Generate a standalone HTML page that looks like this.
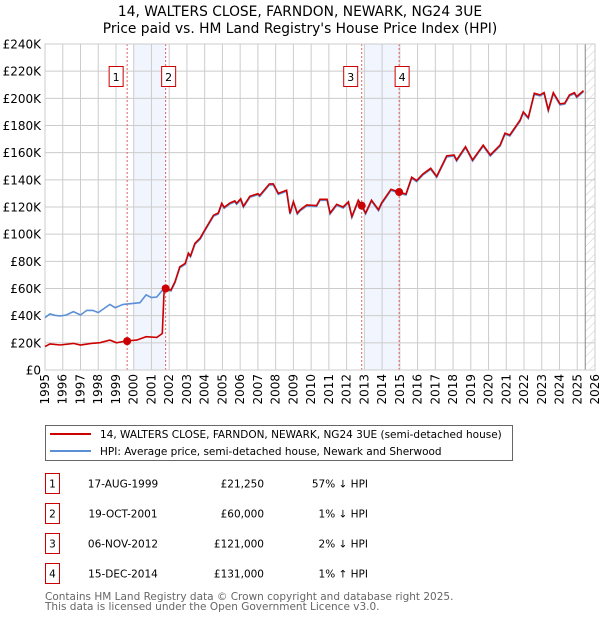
<!DOCTYPE html>
<html><head><meta charset="utf-8">
<style>
body{margin:0;background:#fff;width:600px;height:620px;overflow:hidden;font-family:"DejaVu Sans","Liberation Sans",sans-serif;}
svg text{font-family:"DejaVu Sans","Liberation Sans",sans-serif;}
</style></head>
<body>
<svg id="chart" width="600" height="620" xmlns="http://www.w3.org/2000/svg">
<defs>
<pattern id="hatch" width="6" height="6" patternUnits="userSpaceOnUse" patternTransform="rotate(45)">
<line x1="0" y1="0" x2="0" y2="6" stroke="#ccc" stroke-width="1"/>
</pattern>
</defs>
<text x="300" y="16" text-anchor="middle" font-size="13.8" fill="#000">14, WALTERS CLOSE, FARNDON, NEWARK, NG24 3UE</text>
<text x="300" y="33" text-anchor="middle" font-size="13.8" fill="#000">Price paid vs. HM Land Registry's House Price Index (HPI)</text>
<g id="plot"></g>
<g>
<rect x="45.5" y="425.5" width="467" height="35" fill="#fff" stroke="#666"/>
<line x1="50" y1="434" x2="91" y2="434" stroke="#cc0000" stroke-width="2"/>
<text x="100" y="438" font-size="10.5">14, WALTERS CLOSE, FARNDON, NEWARK, NG24 3UE (semi-detached house)</text>
<line x1="50" y1="451" x2="91" y2="451" stroke="#5b8fd6" stroke-width="2"/>
<text x="100" y="455" font-size="10.5">HPI: Average price, semi-detached house, Newark and Sherwood</text>
</g>
<g id="table"></g>
<text x="45" y="600" font-size="10.5" fill="#666">Contains HM Land Registry data © Crown copyright and database right 2025.</text>
<text x="45" y="610" font-size="10.5" fill="#666">This data is licensed under the Open Government Licence v3.0.</text>
</svg>
<script>
const yearTicks=[1995,1996,1997,1998,1999,2000,2001,2002,2003,2004,2005,2006,2007,2008,2009,2010,2011,2012,2013,2014,2015,2016,2017,2018,2019,2020,2021,2022,2023,2024,2025,2026];
const valueTicks=[0,20,40,60,80,100,120,140,160,180,200,220,240];
const valueLabels=["£0","£20K","£40K","£60K","£80K","£100K","£120K","£140K","£160K","£180K","£200K","£220K","£240K"];
const commonT=[2001.76,2002.1,2002.33,2002.6,2002.9,2003.08,2003.2,2003.45,2003.74,2004.0,2004.5,2004.77,2004.96,2005.1,2005.43,2005.7,2005.8,2006.03,2006.18,2006.55,2007.0,2007.1,2007.65,2007.87,2008.15,2008.62,2008.81,2009.0,2009.22,2009.37,2009.75,2010.3,2010.5,2010.9,2011.07,2011.44,2011.8,2012.1,2012.3,2012.66,2012.85,2013.07,2013.4,2013.8,2013.97,2014.5,2014.95,2015.35,2015.67,2015.95,2016.3,2016.74,2017.08,2017.64,2018.05,2018.2,2018.7,2019.1,2019.7,2020.1,2020.65,2020.93,2021.2,2021.78,2021.96,2022.24,2022.58,2022.9,2023.13,2023.37,2023.65,2024.03,2024.3,2024.56,2024.84,2024.97,2025.35];
const commonV=[60,58.9,65,76,78.5,86,84,93.3,97,103,114,115.6,122.7,119.8,123,124.5,122.7,126,120.6,127.9,129.8,128.5,137,137,130,132.4,115.4,124,115.4,117.8,121.5,121,125.7,125.7,115.6,122,120,123.8,112.9,125,121,115.6,125,118,123,133,131,129.6,141.9,139.4,144.3,148.5,142.5,157.6,158.3,154.6,164.4,154.6,165.6,158.3,165.6,174.3,173,184,190,185.8,203.7,202.5,204.2,191.5,204.2,195.9,196.4,202.5,204.2,201.3,205.7];
const hpiEarlyT=[1995.0,1995.28,1995.55,1995.85,1996.2,1996.6,1997.0,1997.35,1997.7,1998.0,1998.66,1998.95,1999.4,1999.89,2000.35,2000.7,2001.0,2001.3,2001.58];
const hpiEarlyV=[39.3,42,41,40.5,41.2,43.7,41.2,44.6,44.6,43,49,46.6,49,49.6,50.3,56,54,54.5,58.9];
const ppEarlyT=[1995.0,1995.28,1995.85,1996.6,1997.0,1997.6,1998.1,1998.66,1999.03,1999.6,2000.17,2000.7,2001.3,2001.61,2001.72];
const ppEarlyV=[17.2,19.2,18.4,19.6,18.4,19.6,20.1,22,20,21.4,22,24.5,24,26.9,60];
const saleLabels=["1","2","3","4"];
const saleT=[1999.63,2001.8,2012.85,2014.96];
const saleV=[21.25,60,121,131];
const saleDates=["17-AUG-1999","19-OCT-2001","06-NOV-2012","15-DEC-2014"];
const salePrices=["£21,250","£60,000","£121,000","£131,000"];
const saleHpi=["57% ↓ HPI","1% ↓ HPI","2% ↓ HPI","1% ↑ HPI"];

const X0=45,X1=595,Y0=370,Y1=44;
const xs=t=>X0+(t-1995)*(X1-X0)/31;
const ys=v=>Y0-v*(Y0-Y1)/240;
const NS="http://www.w3.org/2000/svg";
const plot=document.getElementById('plot');
function mk(tag,attrs,parent){const e=document.createElementNS(NS,tag);for(const k in attrs)e.setAttribute(k,attrs[k]);(parent||plot).appendChild(e);return e;}

[[2000.0,saleT[1]],[2012.98,saleT[3]]].forEach((s,i)=>{
 const r=mk('rect',{x:xs(s[0]),y:Y1,width:xs(s[1])-xs(s[0]),height:Y0-Y1,fill:'#eef3fc',opacity:0.8});
 
 
});
yearTicks.forEach(y=>{
 const l=mk('line',{x1:xs(y),x2:xs(y),y1:Y1,y2:Y0,stroke:'#cccccc','stroke-width':1});
 
 
 const t=mk('text',{transform:`translate(${xs(y)+4},${Y0+4}) rotate(-90)`,'text-anchor':'end','font-size':12,fill:'#000'});
 t.textContent=y;
 
 
});
valueTicks.forEach((v,i)=>{
 const l=mk('line',{x1:X0,x2:X1,y1:ys(v),y2:ys(v),stroke:'#cccccc','stroke-width':1});
 
 
 const t=mk('text',{x:X0-4,y:ys(v)+4.5,'text-anchor':'end','font-size':12,fill:'#000'});
 t.textContent=valueLabels[i];
 
 
});
const h=mk('rect',{x:xs(2025.45),y:Y1,width:X1-xs(2025.45),height:Y0-Y1,fill:'url(#hatch)'});


const hl=mk('line',{x1:xs(2025.45),x2:xs(2025.45),y1:Y1,y2:Y0,stroke:'#888','stroke-width':1});



saleT.forEach((t,i)=>{
 const l=mk('line',{x1:xs(t),x2:xs(t),y1:Y1,y2:Y0,stroke:'#e06060','stroke-width':1,'stroke-dasharray':'2,2'});
 
 
 const bx=xs(t)-(i%2==0?18:4);
 const r=mk('rect',{x:bx,y:66.5,width:14,height:20,fill:'#fff',stroke:'#cc0000'});
 
 
 const tx=mk('text',{x:bx+7,y:81,'text-anchor':'middle','font-size':11});
 tx.textContent=saleLabels[i];
 
 
});
const pb=mk('rect',{x:X0,y:Y1,width:X1-X0,height:Y0-Y1,fill:'none',stroke:'#cccccc'});



function path(T,V,dy){return T.map((t,i)=>(i?'L':'M')+xs(t).toFixed(1)+','+(ys(V[i])+dy).toFixed(1)).join('');}
const hpi=mk('path',{d:path(hpiEarlyT.concat(commonT),hpiEarlyV.concat(commonV),1),fill:'none',stroke:'#5b8fd6','stroke-width':1.6});


const pp=mk('path',{d:path(ppEarlyT.concat(commonT),ppEarlyV.concat(commonV),0),fill:'none',stroke:'#cc0000','stroke-width':1.6});


saleT.forEach((t,i)=>{
 const c=mk('circle',{cx:xs(t),cy:ys(saleV[i]),r:4,fill:'#cc0000'});
 
 
});

const tb=document.getElementById('table');
saleLabels.forEach((s,i)=>{
 const y=483+i*30;
 const r=mk('rect',{x:45.5,y:y-9.5,width:14,height:20,fill:'#fff',stroke:'#cc0000'},tb);
 
 
 const a=mk('text',{x:52.5,y:y+4.5,'text-anchor':'middle','font-size':10.5},tb);a.textContent=s;
 
 
 const d=mk('text',{x:123,y:y+4.5,'text-anchor':'middle','font-size':10.5},tb);d.textContent=saleDates[i];
 
 
 const p=mk('text',{x:264,y:y+4.5,'text-anchor':'end','font-size':10.5},tb);p.textContent=salePrices[i];
 
 
 const q=mk('text',{x:368,y:y+4.5,'text-anchor':'end','font-size':10.5},tb);q.textContent=saleHpi[i];
 
 
});
</script>
</body></html>
